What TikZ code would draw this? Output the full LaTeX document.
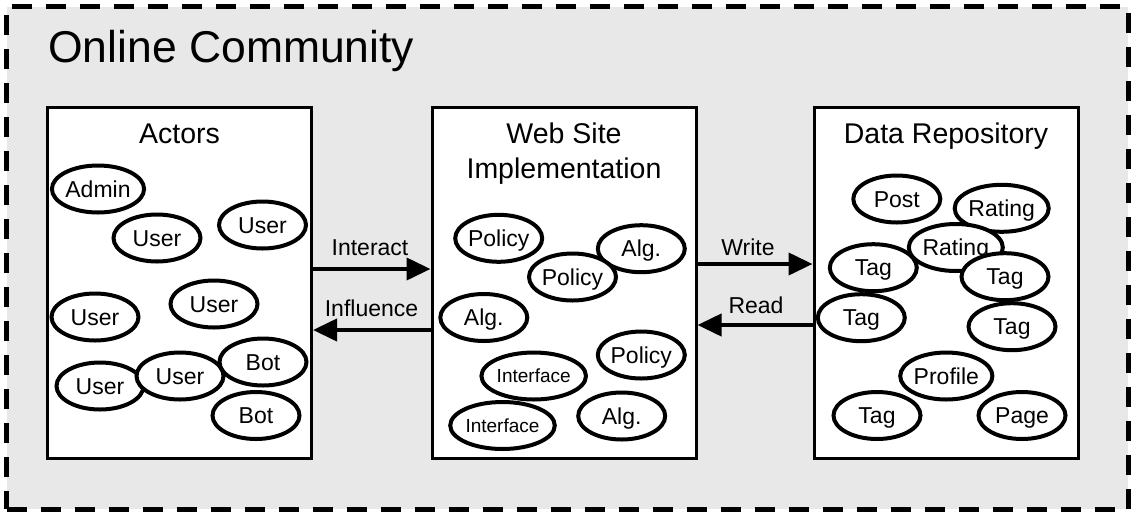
\documentclass[tikz,border=0pt]{standalone}
\usepackage{fontspec}
\setmainfont{Liberation Sans}
\usetikzlibrary{shapes.geometric,arrows.meta}
\definecolor{bggray}{RGB}{232,232,232}
\begin{document}
\begin{tikzpicture}[x=1pt,y=-1pt,
  frame/.style={draw,line width=5pt,dash pattern=on 20pt off 14pt,fill=bggray,inner sep=0pt},
  box/.style={draw,line width=3pt,fill=white,inner sep=0pt,minimum width=264pt,minimum height=351pt},
  ent/.style={ellipse,draw,line width=4pt,fill=white,minimum width=87pt,minimum height=47pt,inner sep=0pt,
    font=\fontsize{23}{27}\selectfont,text height=16.5pt,text depth=0pt},
  small/.style={font=\fontsize{19}{22}\selectfont,text height=13.6pt},
  boxtitle/.style={font=\fontsize{28.5}{35}\selectfont,anchor=base,align=center,inner sep=0pt},
  flow/.style={line width=4pt,-{Triangle[length=24pt,width=22pt]}},
  flowlabel/.style={font=\fontsize{23}{27}\selectfont,anchor=base,inner sep=0pt}
]
\useasboundingbox (0,0) rectangle (1131,512);
\node[frame,minimum width=1121.5pt,minimum height=502.3pt] (community) at (567.25,257.85) {};
\node[anchor=base west,inner sep=0pt,font=\fontsize{44.5}{50}\selectfont] (ctitle) at (48,62.5) {Online Community};

% boxes
\node[box] (actors) at (179.5,283) {};
\node[box] (web) at (564,283) {};
\node[box] (data) at (946,283) {};
\node[boxtitle] (actorst) at (179.5,143.3) {Actors};
\node[boxtitle] (webt) at (564,178.3) {Web Site\\Implementation};
\node[boxtitle] (datat) at (946,143.3) {Data Repository};

% actors
\node[ent] (admin) at (98,189) {Admin};
\node[ent] (u1) at (157,238) {User};
\node[ent] (u2) at (262.5,225) {User};
\node[ent] (u3) at (95,317) {User};
\node[ent] (u4) at (214,304) {User};
\node[ent] (u5) at (100,386) {User};
\node[ent] (u6) at (180,376) {User};
\node[ent] (bot1) at (263,362) {Bot};
\node[ent] (bot2) at (256,415.5) {Bot};

% web site
\node[ent] (pol1) at (498.7,238.3) {Policy};
\node[ent] (alg1) at (641.3,248.7) {Alg.};
\node[ent] (pol2) at (572.5,277) {Policy};
\node[ent] (alg2) at (483.8,317.5) {Alg.};
\node[ent] (pol3) at (641.3,355) {Policy};
\node[ent,small] (int1) at (533.7,376) {Interface};
\node[ent,small] (int2) at (502.5,425.5) {Interface};
\node[ent] (alg3) at (621.7,416) {Alg.};

% data repository
\node[ent] (post) at (896.8,199) {Post};
\node[ent] (rat1) at (1001.7,208.3) {Rating};
\node[ent] (rat2) at (955.8,247.5) {Rating};
\node[ent] (tag1) at (873.3,267.7) {Tag};
\node[ent] (tag2) at (1005,276.7) {Tag};
\node[ent] (tag3) at (861.3,317.7) {Tag};
\node[ent] (tag4) at (1012,326.7) {Tag};
\node[ent] (prof) at (946.3,376) {Profile};
\node[ent] (tag5) at (877,415.5) {Tag};
\node[ent] (page) at (1022,415.5) {Page};

% flows
\draw[flow] (actors.east |- 0,269) -- (web.west |- 0,269);
\draw[flow] (web.west |- 0,330) -- (actors.east |- 0,330);
\draw[flow] (web.east |- 0,264) -- (data.west |- 0,264);
\draw[flow] (data.west |- 0,325) -- (web.east |- 0,325);
\node[flowlabel] (linteract) at (370,255) {Interact};
\node[flowlabel] (linfluence) at (371.5,316) {Influence};
\node[flowlabel] (lwrite) at (748,255) {Write};
\node[flowlabel] (lread) at (756,313) {Read};
\end{tikzpicture}
\end{document}
